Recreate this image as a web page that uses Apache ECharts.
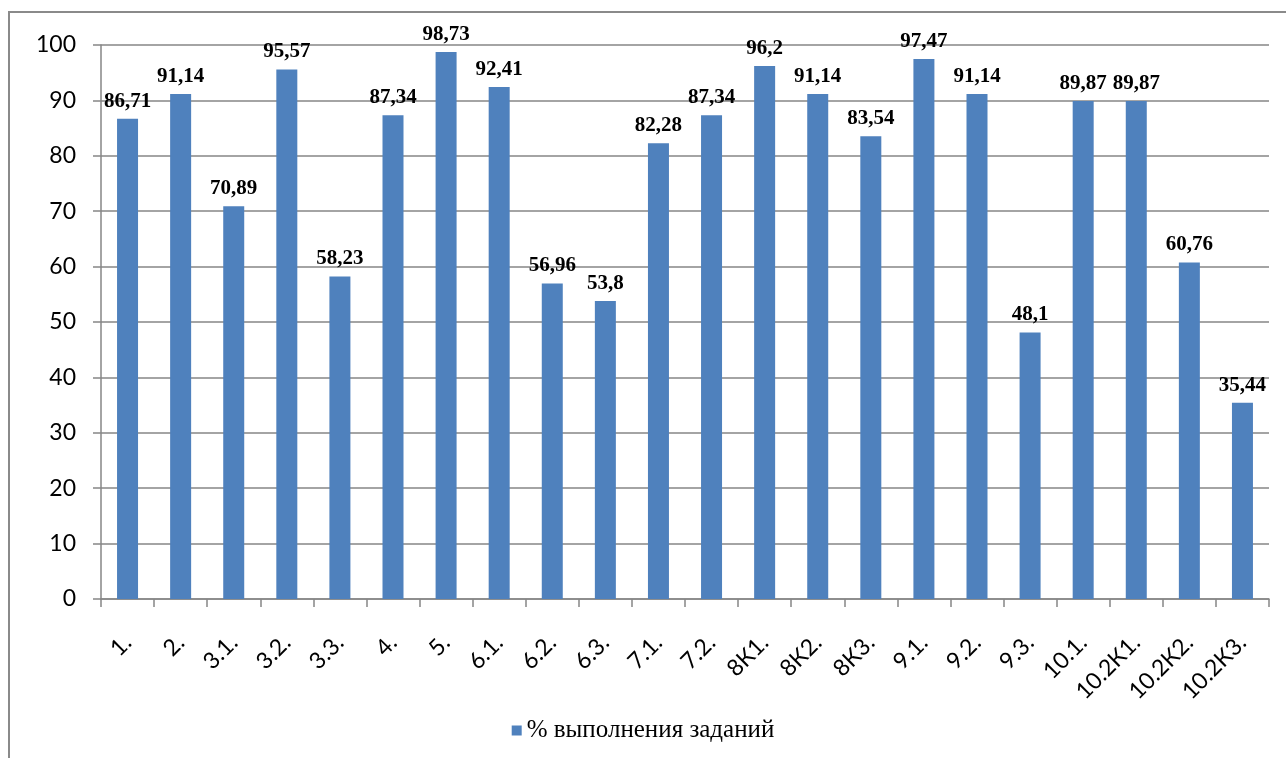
<!DOCTYPE html>
<html><head><meta charset="utf-8">
<script src="https://cdn.jsdelivr.net/npm/echarts@6/dist/echarts.min.js"></script>
<style>html,body{margin:0;padding:0;background:#fff}#c{width:1286px;height:758px}</style>
</head><body><div id="c"></div>
<script>
var categories = ["1.", "2.", "3.1.", "3.2.", "3.3.", "4.", "5.", "6.1.", "6.2.", "6.3.", "7.1.", "7.2.", "8К1.", "8К2.", "8К3.", "9.1.", "9.2.", "9.3.", "10.1.", "10.2К1.", "10.2К2.", "10.2К3."];
var values = [86.71, 91.14, 70.89, 95.57, 58.23, 87.34, 98.73, 92.41, 56.96, 53.8, 82.28, 87.34, 96.2, 91.14, 83.54, 97.47, 91.14, 48.1, 89.87, 89.87, 60.76, 35.44];
var seriesName = "% выполнения заданий";
var chart = echarts.init(document.getElementById('c'));
chart.setOption({
  animation: false,
  textStyle: {fontFamily:'"Liberation Serif", "DejaVu Serif", serif'},
  graphic: [{type:'rect', shape:{x:9,y:12,width:1290,height:760}, style:{fill:'none', stroke:'#8a8a8a', lineWidth:2}, silent:true}],
  grid: {left:101, right:17, top:45, bottom:159},
  legend: {bottom:10, left:'center', itemWidth:10, itemHeight:10, icon:'rect', itemGap:7,
    textStyle:{fontFamily:'"Liberation Serif", "DejaVu Serif", serif', fontSize:25, color:'#000'}},
  xAxis: {type:'category', data:categories, boundaryGap:true,
    axisLine:{lineStyle:{color:'#868686', width:1.5}},
    axisTick:{show:true, length:8, alignWithLabel:false, lineStyle:{color:'#868686', width:1.5}},
    axisLabel:{rotate:45, interval:0, fontFamily:'Lato', fontSize:23, color:'#000', margin:40}},
  yAxis: {type:'value', min:0, max:100, interval:10,
    axisLine:{show:true, lineStyle:{color:'#868686', width:1.5}},
    axisTick:{show:true, length:8, lineStyle:{color:'#868686', width:1.5}},
    splitLine:{lineStyle:{color:'#868686', width:1.5}},
    axisLabel:{fontFamily:'Lato', fontSize:23, color:'#000', margin:25}},
  series: [{type:'bar', name:seriesName, data:values, barWidth:21,
    itemStyle:{color:'#4F81BD'},
    label:{show:true, position:'top', distance:7, fontFamily:'Liberation Serif', fontWeight:'bold', fontSize:21, color:'#000',
      formatter:function(p){return String(p.value).replace('.', ',');}}}]
});
</script></body></html>
